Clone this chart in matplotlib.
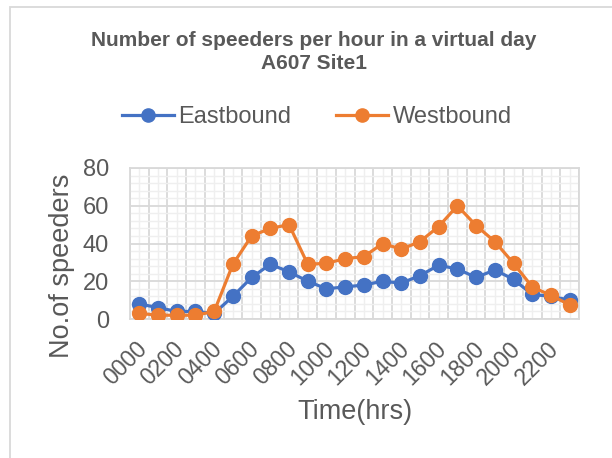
import numpy as np
import matplotlib.pyplot as plt
import matplotlib.transforms as mtransforms
from matplotlib.patches import Rectangle

hours = ["%02d00" % h for h in range(24)]
eastbound = [8, 6, 4, 4, 3, 12, 22, 29, 25, 20, 16, 17, 18, 20, 19, 23, 28.5, 26.5, 22, 26, 21, 13, 12, 10]
westbound = [3, 2, 2, 2, 4, 29, 44, 48, 50, 29, 29.5, 32, 33, 40, 37, 41, 49, 60, 49.5, 41, 29.5, 17, 12.5, 7.5]

plt.rcParams['font.family'] = ['Liberation Sans', 'DejaVu Sans']
grey = '#595959'

fig = plt.figure(figsize=(6.12, 4.58), dpi=100)
fig.patches.append(Rectangle((10/612, -0.1), 1.0, 1.1 - 7/458, transform=fig.transFigure,
                             fill=False, edgecolor='#D9D9D9', linewidth=1.3))

ax = fig.add_axes([130/612, 1 - 319/458, 449/612, 151/458])
x = np.arange(len(hours))
ax.plot(x, eastbound, color='#4472C4', lw=2.3, marker='o', ms=10, label='Eastbound', zorder=3)
ax.plot(x, westbound, color='#ED7D31', lw=2.3, marker='o', ms=10, label='Westbound', zorder=4)

ax.set_xlim(-0.5, len(hours) - 0.5)
ax.set_ylim(0, 80)
ax.set_yticks(np.arange(0, 81, 20))
ax.set_yticks(np.arange(0, 81, 4), minor=True)
ax.set_xticks(np.arange(-0.5, len(hours), 1))
ax.set_xticklabels([])
ax.set_xticks(x, labels=[h if i % 2 == 0 else '' for i, h in enumerate(hours)], minor=True)

ax.grid(which='major', color='#D9D9D9', lw=1.3)
ax.grid(which='minor', color='#EFEFEF', lw=1.0)
ax.set_axisbelow(True)
for s in ax.spines.values():
    s.set_color('#D9D9D9')
    s.set_linewidth(1.3)
ax.tick_params(which='both', length=0, colors=grey)
ax.tick_params(axis='y', labelsize=17, pad=15)
ax.tick_params(axis='x', which='minor', labelsize=16.5, pad=13)
shift = mtransforms.ScaledTranslation(-4/100, 0, fig.dpi_scale_trans)
for lab in ax.get_xticklabels(minor=True):
    lab.set_rotation(45)
    lab.set_ha('right')
    lab.set_va('top')
    lab.set_rotation_mode('anchor')
    lab.set_transform(lab.get_transform() + shift)

fig.text(62/612, 1 - 266/458, 'No.of speeders', rotation=90, ha='center', va='center',
         fontsize=19.5, color=grey)
fig.text(355/612, 1 - 412/458, 'Time(hrs)', ha='center', va='center', fontsize=19.5, color=grey)

fig.text(314/612, 1 - 52/458, 'Number of speeders per hour in a virtual day\nA607 Site1',
         ha='center', va='center', fontsize=15, fontweight='bold', color=grey, linespacing=1.25)
fig.legend(loc='center', bbox_to_anchor=(317/612, 1 - 117/458), ncol=2, frameon=False,
           fontsize=17, labelcolor=grey, handlelength=2.2, handletextpad=0.2, columnspacing=1.9,
           markerscale=0.95)

fig.savefig('out.png', dpi=100)
